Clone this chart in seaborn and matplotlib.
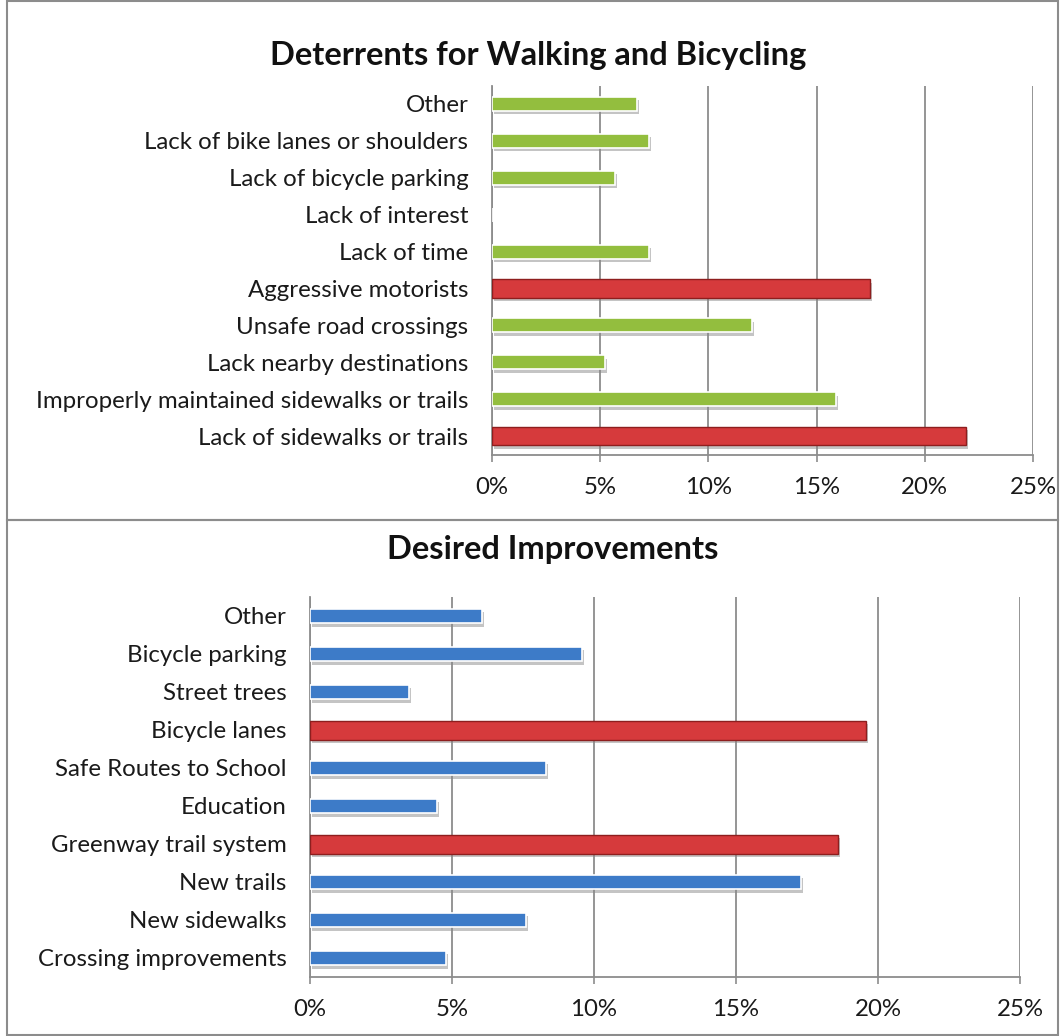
import numpy as np
import pandas as pd
import matplotlib as mpl
import matplotlib.pyplot as plt
import matplotlib.patheffects as pe
from matplotlib.patches import Rectangle
import seaborn as sns

# data, listed top to bottom as drawn
deter_labels = ["Other", "Lack of bike lanes or shoulders", "Lack of bicycle parking",
                "Lack of interest", "Lack of time", "Aggressive motorists",
                "Unsafe road crossings", "Lack nearby destinations",
                "Improperly maintained sidewalks or trails", "Lack of sidewalks or trails"]
deter_values = [6.7, 7.25, 5.7, 0.0, 7.25, 17.45, 12.0, 5.2, 15.9, 21.9]
deter_top = [False, False, False, False, False, True, False, False, False, True]

improve_labels = ["Other", "Bicycle parking", "Street trees", "Bicycle lanes",
                  "Safe Routes to School", "Education", "Greenway trail system",
                  "New trails", "New sidewalks", "Crossing improvements"]
improve_values = [6.07, 9.58, 3.47, 19.58, 8.3, 4.48, 18.6, 17.3, 7.6, 4.8]
improve_top = [False, False, False, True, False, False, True, False, False, False]

x_ticks = [0, 5, 10, 15, 20, 25]
x_ticklabels = ["0%", "5%", "10%", "15%", "20%", "25%"]

sns.set_style("white")
plt.rcParams['font.family'] = ['Lato', 'DejaVu Sans']
W, H = 1060, 1036
HI = "#D63A3C"


def bar_panel(ax, labels, values, top, base_color, w=0.38, w_hi=0.5):
    df = pd.DataFrame({"cat": labels, "val": values,
                       "grp": ["hi" if t else "lo" for t in top]})
    sns.barplot(data=df, x="val", y="cat", hue="grp", order=labels,
                palette={"lo": base_color, "hi": HI}, dodge=False, saturation=1,
                width=w, legend=False, ax=ax, zorder=3,
                edgecolor="white", linewidth=1.2)
    for p in ax.patches:
        if np.allclose(p.get_facecolor()[:3], mpl.colors.to_rgb(HI)):
            yc = p.get_y() + p.get_height() / 2
            p.set_height(w_hi)
            p.set_y(yc - w_hi / 2)
            p.set_edgecolor("#8E1E1E")
            p.set_linewidth(1.0)
        p.set_path_effects([pe.SimplePatchShadow(offset=(1.5, -2.5), shadow_rgbFace="#8a8a8a", alpha=0.5),
                            pe.Normal()])
    n = len(labels)
    ax.set_xlim(0, 25)
    ax.set_ylim(n - 0.5, -0.5)
    ax.set_xticks(x_ticks)
    ax.set_xticklabels(x_ticklabels)
    ax.set_yticks(np.arange(-0.5, n, 1.0), minor=True)
    ax.xaxis.grid(True, color="#8c8c8c", linewidth=1.3, zorder=0)
    ax.yaxis.grid(False)
    for s in ["top", "right"]:
        ax.spines[s].set_visible(False)
    for s in ["left", "bottom"]:
        ax.spines[s].set_color("#8c8c8c")
        ax.spines[s].set_linewidth(1.3)
    ax.tick_params(axis="y", which="major", length=0, pad=17, labelsize=17.3, labelcolor="#1a1a1a")
    ax.tick_params(axis="y", which="minor", length=5, color="#8c8c8c", width=1.2, direction="out")
    ax.tick_params(axis="x", which="major", length=5, color="#8c8c8c", width=1.2, pad=11,
                   labelsize=17.3, labelcolor="#1a1a1a", bottom=True)
    ax.set_xlabel("")
    ax.set_ylabel("")


fig = plt.figure(figsize=(W / 100, H / 100), dpi=100)

ax1 = fig.add_axes([492 / W, 1 - 454.5 / H, (1033 - 492) / W, (454.5 - 85.5) / H])
bar_panel(ax1, deter_labels, deter_values, deter_top, "#93BE3E")

ax2 = fig.add_axes([310 / W, 1 - 977 / H, (1020 - 310) / W, (977 - 597) / H])
bar_panel(ax2, improve_labels, improve_values, improve_top, "#3D7BC8")

fig.text(538 / W, 1 - 55 / H, "Deterrents for Walking and Bicycling", ha="center", va="center",
         fontsize=23.5, fontweight="bold", color="#111111")
fig.text(553 / W, 1 - 550 / H, "Desired Improvements", ha="center", va="center",
         fontsize=23.5, fontweight="bold", color="#111111")

# chart frames
fig.add_artist(Rectangle((7 / W, 1 - 520 / H), (1058 - 7) / W, 519 / H, transform=fig.transFigure,
                         fill=False, edgecolor="#8c8c8c", linewidth=1.5))
fig.add_artist(Rectangle((7 / W, 1 - 1035 / H), (1058 - 7) / W, 515 / H, transform=fig.transFigure,
                         fill=False, edgecolor="#8c8c8c", linewidth=1.5))

plt.savefig("out.png", dpi=100)
